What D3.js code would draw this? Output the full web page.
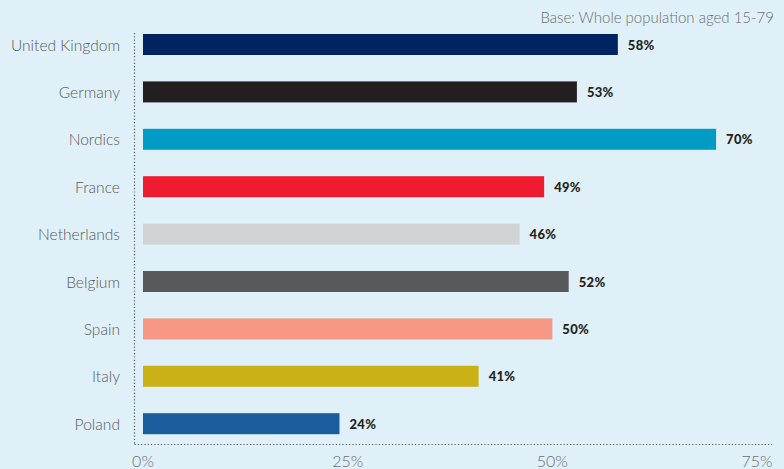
<!DOCTYPE html>
<html>
<head>
<meta charset="utf-8">
<script src="https://cdn.jsdelivr.net/npm/d3@7"></script>
<style>
  html, body { margin: 0; padding: 0; background: #dff0f8; }
  svg { display: block; }
</style>
</head>
<body>
<div id="chart"></div>
<script>
// Share of the population, by market
const categories = ["United Kingdom", "Germany", "Nordics", "France", "Netherlands", "Belgium", "Spain", "Italy", "Poland"];
const values = [58, 53, 70, 49, 46, 52, 50, 41, 24];
const barColors = ["#002361", "#231f20", "#009cc5", "#ee1c2e", "#d1d3d4", "#58595b", "#f69884", "#c9b117", "#1a5d9d"];
const tickValues = [0, 25, 50, 75];
const tickLabels = ["0%", "25%", "50%", "75%"];
const baseNote = "Base: Whole population aged 15-79";

const W = 784, H = 469;
const svg = d3.select("#chart").append("svg")
  .attr("width", W).attr("height", H);

svg.append("rect").attr("width", W).attr("height", H).attr("fill", "#dff0f8");

const x = d3.scaleLinear().domain([0, 75]).range([143, 757]);
const y = d3.scaleBand().domain(categories)
  .range([20.8, 447.4]).paddingInner(0.557).paddingOuter(0.2785);

const font = "Lato, 'Open Sans', sans-serif";

// dotted frame (left and bottom)
const dotStyle = s => s.attr("stroke", "#555").attr("stroke-width", 1.2)
  .attr("stroke-dasharray", "1.2,2.1").attr("fill", "none");
svg.append("line").attr("x1", 134.5).attr("x2", 134.5).attr("y1", 33).attr("y2", 444.5).call(dotStyle);
svg.append("line").attr("x1", 134.5).attr("x2", 772).attr("y1", 444.5).attr("y2", 444.5).call(dotStyle);

// bars
svg.append("g").selectAll("rect").data(categories).join("rect")
  .attr("x", x(0))
  .attr("y", d => y(d))
  .attr("width", (d, i) => x(values[i]) - x(0))
  .attr("height", y.bandwidth())
  .attr("fill", (d, i) => barColors[i]);

// value labels
svg.append("g").selectAll("text").data(categories).join("text")
  .attr("x", (d, i) => x(values[i]) + 10)
  .attr("y", d => y(d) + y.bandwidth() / 2 + 5)
  .attr("font-family", font).attr("font-weight", 900).attr("font-size", 13)
  .attr("letter-spacing", 0.3)
  .attr("fill", "#231f20")
  .text((d, i) => values[i] + "%");

// category labels
svg.append("g").selectAll("text").data(categories).join("text")
  .attr("x", 120)
  .attr("y", d => y(d) + y.bandwidth() / 2 + 6)
  .attr("text-anchor", "end")
  .attr("font-family", font).attr("font-weight", 300).attr("font-size", 15.6)
  .attr("fill", "#5a5a5c")
  .text(d => d);

// x tick labels
svg.append("g").selectAll("text").data(tickValues).join("text")
  .attr("x", d => x(d))
  .attr("y", 467)
  .attr("text-anchor", "middle")
  .attr("font-family", font).attr("font-weight", 300).attr("font-size", 16)
  .attr("fill", "#6d6e70")
  .text((d, i) => tickLabels[i]);

// base note
svg.append("text")
  .attr("x", 774).attr("y", 23.3)
  .attr("text-anchor", "end")
  .attr("font-family", font).attr("font-weight", 300).attr("font-size", 15)
  .attr("fill", "#6d6e70")
  .text(baseNote);
</script>
</body>
</html>
